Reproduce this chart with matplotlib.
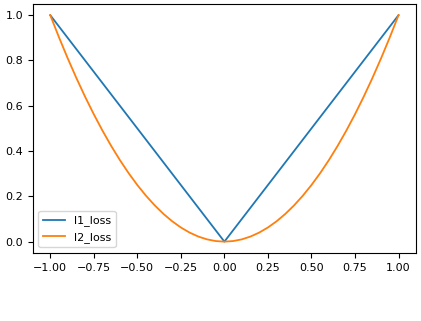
import matplotlib
matplotlib.use("Agg")
import matplotlib.pyplot as plt

# values
x = [-1.0, -0.95, -0.9, -0.85, -0.8, -0.75, -0.7, -0.65, -0.6, -0.55, -0.5,
     -0.45, -0.4, -0.35, -0.3, -0.25, -0.2, -0.15, -0.1, -0.05, 0.0,
     0.05, 0.1, 0.15, 0.2, 0.25, 0.3, 0.35, 0.4, 0.45, 0.5,
     0.55, 0.6, 0.65, 0.7, 0.75, 0.8, 0.85, 0.9, 0.95, 1.0]
l1_loss = [1.0, 0.95, 0.9, 0.85, 0.8, 0.75, 0.7, 0.65, 0.6, 0.55, 0.5,
           0.45, 0.4, 0.35, 0.3, 0.25, 0.2, 0.15, 0.1, 0.05, 0.0,
           0.05, 0.1, 0.15, 0.2, 0.25, 0.3, 0.35, 0.4, 0.45, 0.5,
           0.55, 0.6, 0.65, 0.7, 0.75, 0.8, 0.85, 0.9, 0.95, 1.0]
l2_loss = [1.0, 0.9025, 0.81, 0.7225, 0.64, 0.5625, 0.49, 0.4225, 0.36, 0.3025, 0.25,
           0.2025, 0.16, 0.1225, 0.09, 0.0625, 0.04, 0.0225, 0.01, 0.0025, 0.0,
           0.0025, 0.01, 0.0225, 0.04, 0.0625, 0.09, 0.1225, 0.16, 0.2025, 0.25,
           0.3025, 0.36, 0.4225, 0.49, 0.5625, 0.64, 0.7225, 0.81, 0.9025, 1.0]

plt.rcParams['font.size'] = 8

fig = plt.figure(figsize=(4.21, 3.21), dpi=100)
ax = fig.add_axes([0.078, 0.212, 0.91, 0.776])
ax.plot(x, l1_loss, label='l1_loss', color='tab:blue', lw=1.3)
ax.plot(x, l2_loss, label='l2_loss', color='tab:orange', lw=1.3)
ax.set_xticks([-1.0, -0.75, -0.5, -0.25, 0.0, 0.25, 0.5, 0.75, 1.0])
ax.set_xticklabels(['−1.00', '−0.75', '−0.50', '−0.25', '0.00', '0.25', '0.50', '0.75', '1.00'])
ax.set_yticks([0.0, 0.2, 0.4, 0.6, 0.8, 1.0])
ax.legend(loc='lower left')
fig.savefig("out.png")
